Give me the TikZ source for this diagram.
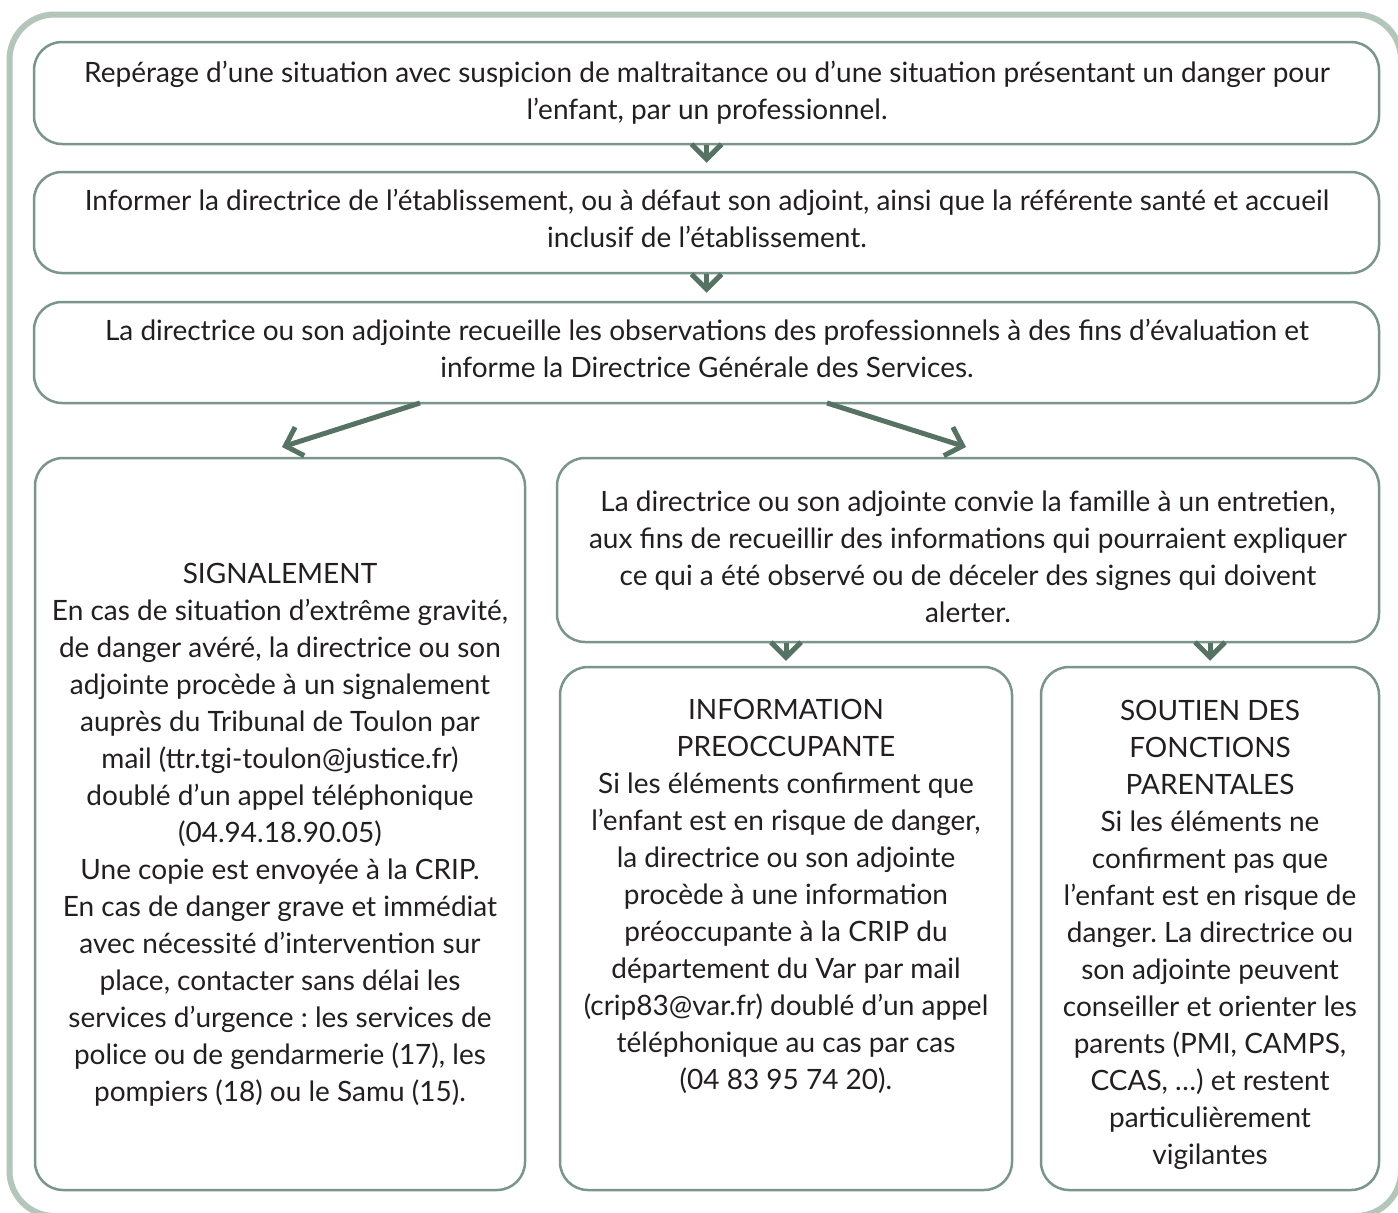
\documentclass[tikz,border=0pt]{standalone}
\usepackage{fontspec}
\setmainfont{Lato}
\usetikzlibrary{arrows.meta}
\definecolor{framec}{HTML}{B2C6BA}
\definecolor{boxc}{HTML}{7A968A}
\definecolor{arrc}{HTML}{557263}
\definecolor{txtc}{HTML}{231F20}
\frenchspacing
\begin{document}
\begin{tikzpicture}[x=1pt,y=-1pt,
  box/.style={draw=boxc,line width=2.5pt,rounded corners=28pt,inner sep=0pt,fill=white},
  txtn/.style={align=center,text=txtc,font=\fontsize{28}{37}\selectfont,inner sep=0pt},
  arr/.style={draw=arrc,line width=5pt,-{Straight Barb[length=15pt,width=30pt]}}]
\clip (0,0) rectangle (1398,1213);
\useasboundingbox (0,0) rectangle (1398,1213);
\fill[white] (0,0) rectangle (1398,1213);
\draw[framec,line width=6pt,rounded corners=45pt] (9.5,14.5) rectangle (1401,1216);

% boxes
\node[box,minimum width=1345pt,minimum height=102pt] (b1) at (706.5,93) {};
\node[box,minimum width=1345pt,minimum height=101pt] (b2) at (706.5,222.5) {};
\node[box,minimum width=1345pt,minimum height=101pt] (b3) at (706.5,352.5) {};
\node[box,minimum width=490pt,minimum height=732pt] (b4) at (280,824) {};
\node[box,minimum width=822pt,minimum height=184pt] (b5) at (968,550) {};
\node[box,minimum width=452pt,minimum height=523pt] (b6) at (786,928.5) {};
\node[box,minimum width=338pt,minimum height=523pt] (b7) at (1210,928.5) {};

% texts
\node[txtn] (t1) at (707,92.5) {Repérage d’une situation avec suspicion de maltraitance ou d’une situation présentant un danger pour\\l’enfant, par un professionnel.};
\node[txtn] (t2) at (707,218.5) {Informer la directrice de l’établissement, ou à défaut son adjoint, ainsi que la référente santé et accueil\\inclusif de l’établissement.};
\node[txtn] (t3) at (707,348.5) {La directrice ou son adjointe recueille les observations des professionnels à des fins d’évaluation et\\informe la Directrice Générale des Services.};
\node[txtn] (t4) at (280,835) {SIGNALEMENT\\
En cas de situation d’extrême gravité,\\
de danger avéré, la directrice ou son\\
adjointe procède à un signalement\\
auprès du Tribunal de Toulon par\\
mail (ttr.tgi-toulon@justice.fr)\\
doublé d’un appel téléphonique\\
(04.94.18.90.05)\\
Une copie est envoyée à la CRIP.\\
En cas de danger grave et immédiat\\
avec nécessité d’intervention sur\\
place, contacter sans délai les\\
services d’urgence : les services de\\
police ou de gendarmerie (17), les\\
pompiers (18) ou le Samu (15).};
\node[txtn] (t5) at (968,556.5) {La directrice ou son adjointe convie la famille à un entretien,\\
aux fins de recueillir des informations qui pourraient expliquer\\
ce qui a été observé ou de déceler des signes qui doivent\\
alerter.};
\node[txtn] (t6) at (786,896) {INFORMATION\\
PREOCCUPANTE\\
Si les éléments confirment que\\
l’enfant est en risque de danger,\\
la directrice ou son adjointe\\
procède à une information\\
préoccupante à la CRIP du\\
département du Var par mail\\
(crip83@var.fr) doublé d’un appel\\
téléphonique au cas par cas\\
(04 83 95 74 20).};
\node[txtn] (t7) at (1210,934.5) {SOUTIEN DES\\
FONCTIONS\\
PARENTALES\\
Si les éléments ne\\
confirment pas que\\
l’enfant est en risque de\\
danger. La directrice ou\\
son adjointe peuvent\\
conseiller et orienter les\\
parents (PMI, CAMPS,\\
CCAS, …) et restent\\
particulièrement\\
vigilantes};

% connectors
\coordinate (d1a) at (420,403);
\coordinate (d1b) at (282,447);
\coordinate (d2a) at (827,403);
\coordinate (d2b) at (966,447);
\draw[arr,shorten >=8pt] (b1.south) -- (b2.north);
\draw[arr,shorten >=8pt] (b2.south) -- (b3.north);
\draw[arr] (d1a) -- (d1b);
\draw[arr] (d2a) -- (d2b);
\draw[arr,shorten >=5pt] (b6.north |- b5.south) -- (b6.north);
\draw[arr,shorten >=5pt] (b7.north |- b5.south) -- (b7.north);
\end{tikzpicture}
\end{document}
